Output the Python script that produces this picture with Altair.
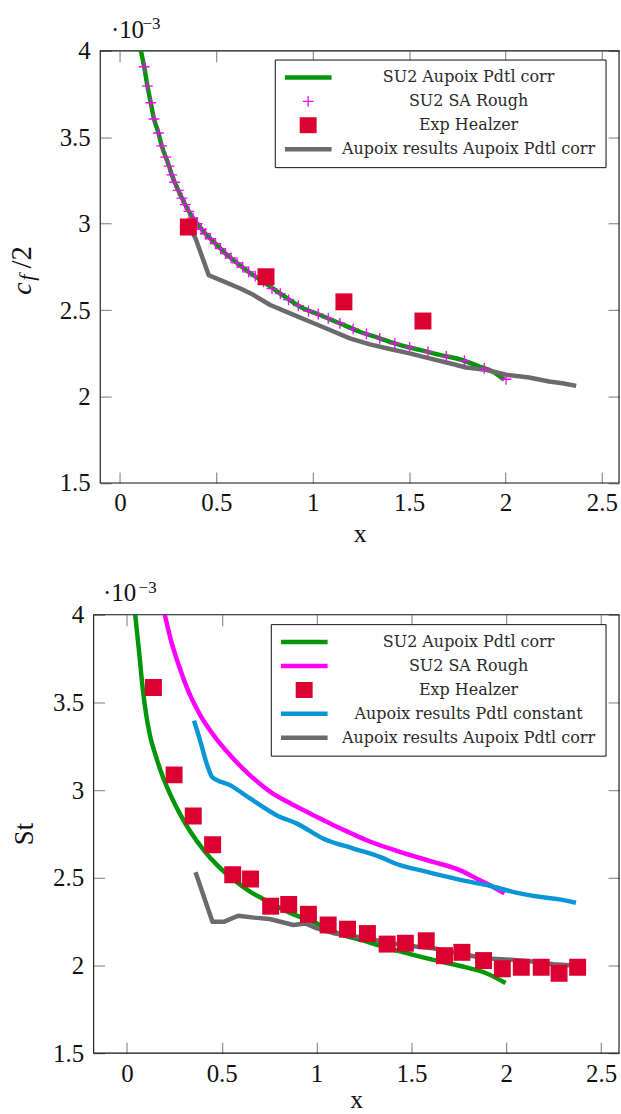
import altair as alt
import pandas as pd

# ---------------- skin friction panel: c_f/2 (x 10^-3) ----------------
CF_CORR_X = [0.109, 0.126, 0.143, 0.160, 0.177, 0.200, 0.217, 0.238, 0.255, 0.269, 0.284,
             0.303, 0.322, 0.339, 0.358, 0.379, 0.401, 0.444, 0.496, 0.548, 0.608, 0.668,
             0.745, 0.832, 0.935, 1.038, 1.142, 1.245, 1.348, 1.451, 1.555, 1.658, 1.761,
             1.865, 1.933, 1.994]
CF_CORR_Y = [4.000, 3.908, 3.796, 3.700, 3.606, 3.525, 3.450, 3.385, 3.333, 3.283, 3.240,
             3.193, 3.148, 3.110, 3.071, 3.033, 3.000, 2.942, 2.885, 2.827, 2.773, 2.721,
             2.664, 2.596, 2.520, 2.472, 2.423, 2.375, 2.337, 2.299, 2.270, 2.241, 2.216,
             2.174, 2.145, 2.097]

CF_ROUGH_X = [0.126, 0.143, 0.160, 0.177, 0.200, 0.217, 0.238, 0.255, 0.269, 0.284, 0.303,
              0.322, 0.339, 0.358, 0.379, 0.401, 0.422, 0.444, 0.470, 0.496, 0.522, 0.548,
              0.577, 0.608, 0.637, 0.668, 0.702, 0.745, 0.789, 0.832, 0.875, 0.926, 0.978,
              1.029, 1.081, 1.141, 1.210, 1.279, 1.348, 1.426, 1.503, 1.598, 1.693, 1.787,
              1.890, 2.003]
CF_ROUGH_Y = [3.908, 3.796, 3.700, 3.606, 3.525, 3.450, 3.385, 3.333, 3.283, 3.240, 3.193,
              3.148, 3.110, 3.071, 3.033, 3.000, 2.968, 2.942, 2.913, 2.885, 2.856, 2.827,
              2.802, 2.773, 2.749, 2.721, 2.697, 2.664, 2.625, 2.596, 2.560, 2.526, 2.495,
              2.477, 2.452, 2.424, 2.392, 2.362, 2.337, 2.307, 2.284, 2.258, 2.233, 2.208,
              2.163, 2.100]

CF_EXP_X = [0.355, 0.758, 1.162, 1.572]
CF_EXP_Y = [2.981, 2.693, 2.548, 2.437]

CF_AUPOIX_X = [0.365, 0.393, 0.461, 0.522, 0.625, 0.694, 0.780, 0.883, 0.987, 1.090, 1.193,
               1.297, 1.400, 1.503, 1.606, 1.710, 1.796, 1.899, 2.003, 2.123, 2.226, 2.295,
               2.367]
CF_AUPOIX_Y = [2.975, 2.913, 2.702, 2.674, 2.625, 2.587, 2.530, 2.481, 2.433, 2.385, 2.337,
               2.302, 2.275, 2.250, 2.221, 2.193, 2.168, 2.155, 2.126, 2.110, 2.087, 2.077,
               2.062]

# ---------------- Stanton number panel: St (x 10^-3) ----------------
ST_CORR_X = [0.044, 0.065, 0.082, 0.100, 0.122, 0.152, 0.187, 0.231, 0.284, 0.336, 0.406,
             0.476, 0.564, 0.651, 0.713, 0.860, 1.000, 1.089, 1.264, 1.439, 1.614, 1.789,
             1.894, 1.996]
ST_CORR_Y = [4.000, 3.784, 3.595, 3.443, 3.311, 3.197, 3.083, 2.970, 2.856, 2.761, 2.657,
             2.572, 2.487, 2.420, 2.382, 2.300, 2.240, 2.193, 2.136, 2.080, 2.032, 1.989,
             1.956, 1.900]

ST_ROUGH_X = [0.200, 0.231, 0.275, 0.327, 0.389, 0.459, 0.546, 0.651, 0.756, 0.861, 0.914,
              1.000, 1.089, 1.176, 1.264, 1.439, 1.614, 1.754, 1.859, 1.929, 1.990]
ST_ROUGH_Y = [4.000, 3.860, 3.708, 3.557, 3.424, 3.311, 3.197, 3.083, 2.990, 2.925, 2.895,
              2.848, 2.800, 2.757, 2.714, 2.648, 2.591, 2.544, 2.487, 2.449, 2.411]

ST_EXP_X = [0.140, 0.249, 0.350, 0.452, 0.558, 0.652, 0.758, 0.853, 0.957, 1.061, 1.163,
            1.268, 1.372, 1.468, 1.578, 1.674, 1.766, 1.880, 1.979, 2.079, 2.184, 2.278,
            2.376]
ST_EXP_Y = [3.585, 3.087, 2.852, 2.688, 2.517, 2.493, 2.338, 2.348, 2.292, 2.231, 2.207,
            2.182, 2.122, 2.127, 2.141, 2.056, 2.075, 2.028, 1.981, 1.990, 1.990, 1.956,
            1.990]

ST_CONST_X = [0.354, 0.389, 0.424, 0.450, 0.546, 0.651, 0.791, 0.897, 1.036, 1.194, 1.334,
              1.439, 1.544, 1.667, 1.789, 1.912, 2.034, 2.174, 2.279, 2.367]
ST_CONST_Y = [3.396, 3.273, 3.140, 3.074, 3.027, 2.951, 2.856, 2.809, 2.723, 2.667, 2.619,
              2.572, 2.544, 2.511, 2.481, 2.455, 2.420, 2.392, 2.377, 2.358]

ST_AUPOIX_X = [0.362, 0.451, 0.514, 0.586, 0.670, 0.753, 0.878, 0.940, 1.002, 1.089, 1.264,
               1.400, 1.522, 1.614, 1.834, 1.929, 2.042, 2.139, 2.250, 2.354]
ST_AUPOIX_Y = [2.532, 2.250, 2.250, 2.284, 2.273, 2.265, 2.231, 2.240, 2.212, 2.184, 2.155,
               2.125, 2.108, 2.098, 2.051, 2.038, 2.032, 2.023, 2.007, 2.000]

# ---------------- axes ----------------
X_TICKS = [0, 0.5, 1, 1.5, 2, 2.5]
Y_TICKS = [1.5, 2, 2.5, 3, 3.5, 4]
Y_LIMITS = [1.5, 4]
CF_X_LIMITS = [-0.102, 2.589]
ST_X_LIMITS = [-0.175, 2.594]

NAME_CORR = "SU2 Aupoix Pdtl corr"
NAME_ROUGH = "SU2 SA Rough"
NAME_EXP = "Exp Healzer"
NAME_CONST = "Aupoix results Pdtl constant"
NAME_AUPOIX = "Aupoix results Aupoix Pdtl corr"

# ---------------- styling ----------------
SERIF = "Liberation Serif"
LEGEND_FONT = "DejaVu Serif"
INK = "#111111"
GREEN = "#00960a"
MAGENTA = "#ff00ff"
RED = "#dc0030"
BLUE = "#0896d6"
GREY = "#6b6b6b"
LINE_W = 4.5
TICK_LEN = 11
PANEL_W = 527.3
CF_H = 433.7
ST_H = 440
CF_INSET = 6.6  # upper frame begins slightly to the right of the lower one

# marker / legend glyphs as unit paths, drawn at SYM_SIZE (23.5 px per unit)
SYM_SIZE = 2209
GLYPH_LINE = "M-1,-0.096H1V0.096H-1Z"
GLYPH_SQUARE = "M-0.362,-0.362H0.362V0.362H-0.362Z"
GLYPH_CROSS = "M-0.23,-0.028H0.23V0.028H-0.23ZM-0.028,-0.23H0.028V0.23H-0.028Z"

ONE_ROW = pd.DataFrame({"k": [0]})

TICK_STYLE = dict(domain=False, grid=False, tickSize=TICK_LEN, tickColor="#8f8f8f",
                  tickWidth=1.2, labelFlush=False, labelOverlap=False)


def axis_x_main(title_pad):
    return alt.Axis(orient="bottom", offset=-TICK_LEN, values=X_TICKS, format="~g",
                    labelFont=SERIF, labelFontSize=25, labelColor=INK, labelPadding=8,
                    title="x", titleFont=SERIF, titleFontSize=26, titleFontWeight="normal",
                    titleColor=INK, titlePadding=title_pad, **TICK_STYLE)


def axis_x_top():
    return alt.Axis(orient="top", offset=-TICK_LEN, values=X_TICKS, labels=False,
                    title=None, **TICK_STYLE)


def axis_y_main(inset):
    return alt.Axis(orient="left", offset=-(inset + TICK_LEN), values=Y_TICKS, format="~g",
                    labelFont=SERIF, labelFontSize=25, labelColor=INK, labelPadding=10,
                    title=None, **TICK_STYLE)


def axis_y_right():
    return alt.Axis(orient="right", offset=-TICK_LEN, values=Y_TICKS, labels=False,
                    title=None, **TICK_STYLE)


def text_mark(text, x, y, size, italic=False, angle=0):
    return alt.Chart(ONE_ROW).mark_text(
        text=text, font=SERIF, fontSize=size, fontStyle="italic" if italic else "normal",
        align="left", baseline="alphabetic", angle=angle, color=INK
    ).encode(x=alt.value(x), y=alt.value(y))


def panel(x_limits, inset, height, lines, points, legend_names, legend_colors,
          legend_glyphs, legend_pos, label_offset, extra_text, x_title_pad):
    xs = alt.Scale(domain=x_limits, range=[inset, PANEL_W], nice=False, zero=False)
    ys = alt.Scale(domain=Y_LIMITS, nice=False, zero=False)

    frame_df = pd.DataFrame({"x0": [x_limits[0]], "x1": [x_limits[1]],
                             "y0": [Y_LIMITS[0]], "y1": [Y_LIMITS[1]]})
    frame = alt.Chart(frame_df).mark_rect(fill="transparent", stroke=INK, strokeWidth=1.1).encode(
        x=alt.X("x0:Q", scale=xs, axis=None), x2="x1:Q",
        y=alt.Y("y0:Q", scale=ys, axis=None), y2="y1:Q")

    layers = [frame]
    for i, (xv, yv, color, interp) in enumerate(lines):
        if i == 0:
            xa, ya = axis_x_main(x_title_pad), axis_y_main(inset)
        elif i == 1:
            xa, ya = axis_x_top(), axis_y_right()
        else:
            xa = ya = None
        df = pd.DataFrame({"x": xv, "y": yv})
        layers.append(alt.Chart(df).mark_line(
            color=color, strokeWidth=LINE_W, clip=True, interpolate=interp, strokeJoin="round"
        ).encode(x=alt.X("x:Q", scale=xs, axis=xa), y=alt.Y("y:Q", scale=ys, axis=ya)))

    legend = alt.Legend(title=None, orient="none", legendX=legend_pos[0], legendY=legend_pos[1],
                        padding=10, fillColor="white", strokeColor=INK, symbolSize=SYM_SIZE,
                        symbolStrokeWidth=0, symbolOpacity=1, labelFont=LEGEND_FONT,
                        labelFontSize=16, labelColor="#2a2a2a", labelAlign="center",
                        labelOffset=label_offset, labelLimit=600, rowPadding=8, clipHeight=16)
    pts_df = pd.concat([pd.DataFrame({"x": xv, "y": yv, "series": name})
                        for xv, yv, name in points], ignore_index=True)
    layers.append(alt.Chart(pts_df).mark_point(
        filled=True, size=SYM_SIZE, opacity=1, strokeWidth=0, clip=True
    ).encode(
        x=alt.X("x:Q", scale=xs, axis=None),
        y=alt.Y("y:Q", scale=ys, axis=None),
        color=alt.Color("series:N", scale=alt.Scale(domain=legend_names, range=legend_colors),
                        legend=legend),
        shape=alt.Shape("series:N", scale=alt.Scale(domain=legend_names, range=legend_glyphs),
                        legend=legend),
    ))
    layers.extend(extra_text)
    return alt.layer(*layers).resolve_axis(x="independent", y="independent").properties(
        width=PANEL_W, height=height)


cf_panel = panel(
    CF_X_LIMITS, CF_INSET, CF_H,
    lines=[(CF_CORR_X, CF_CORR_Y, GREEN, "monotone"),
           (CF_AUPOIX_X, CF_AUPOIX_Y, GREY, "linear")],
    points=[(CF_ROUGH_X, CF_ROUGH_Y, NAME_ROUGH), (CF_EXP_X, CF_EXP_Y, NAME_EXP)],
    legend_names=[NAME_CORR, NAME_ROUGH, NAME_EXP, NAME_AUPOIX],
    legend_colors=[GREEN, MAGENTA, RED, GREY],
    legend_glyphs=[GLYPH_LINE, GLYPH_CROSS, GLYPH_SQUARE, GLYPH_LINE],
    legend_pos=(181.8, 8.7),
    label_offset=137.5,
    extra_text=[
        text_mark("·10", 17.3, -13.3, 25),
        text_mark("−3", 49, -22.3, 17),
        # y title c_f/2, reading bottom to top
        text_mark("c", -62.7, 244.7, 28, italic=True, angle=270),
        text_mark("f", -60.0, 230.7, 22, italic=True, angle=270),
        text_mark("/2", -62.7, 218.5, 29, angle=270),
    ],
    x_title_pad=5,
)

st_panel = panel(
    ST_X_LIMITS, 0, ST_H,
    lines=[(ST_CORR_X, ST_CORR_Y, GREEN, "monotone"),
           (ST_AUPOIX_X, ST_AUPOIX_Y, GREY, "linear"),
           (ST_ROUGH_X, ST_ROUGH_Y, MAGENTA, "monotone"),
           (ST_CONST_X, ST_CONST_Y, BLUE, "monotone")],
    points=[(ST_EXP_X, ST_EXP_Y, NAME_EXP)],
    legend_names=[NAME_CORR, NAME_ROUGH, NAME_EXP, NAME_CONST, NAME_AUPOIX],
    legend_colors=[GREEN, MAGENTA, RED, BLUE, GREY],
    legend_glyphs=[GLYPH_LINE, GLYPH_LINE, GLYPH_SQUARE, GLYPH_LINE, GLYPH_LINE],
    legend_pos=(177.8, 9.4),
    label_offset=141.5,
    extra_text=[
        text_mark("·10", 9.3, -14, 25),
        text_mark("−3", 45.1, -22.3, 17),
        # y title St, reading bottom to top
        text_mark("St", -61.0, 231.3, 27, angle=270),
    ],
    x_title_pad=1,
)

chart = alt.vconcat(cf_panel, st_panel, spacing=30).resolve_scale(
    color="independent", shape="independent"
).resolve_legend(
    color="independent", shape="independent"
).properties(
    padding={"left": 7, "top": 12, "right": 0, "bottom": 0}
).configure_view(stroke="transparent")

chart.save("out.html", embed_options={"renderer": "svg", "actions": False})
